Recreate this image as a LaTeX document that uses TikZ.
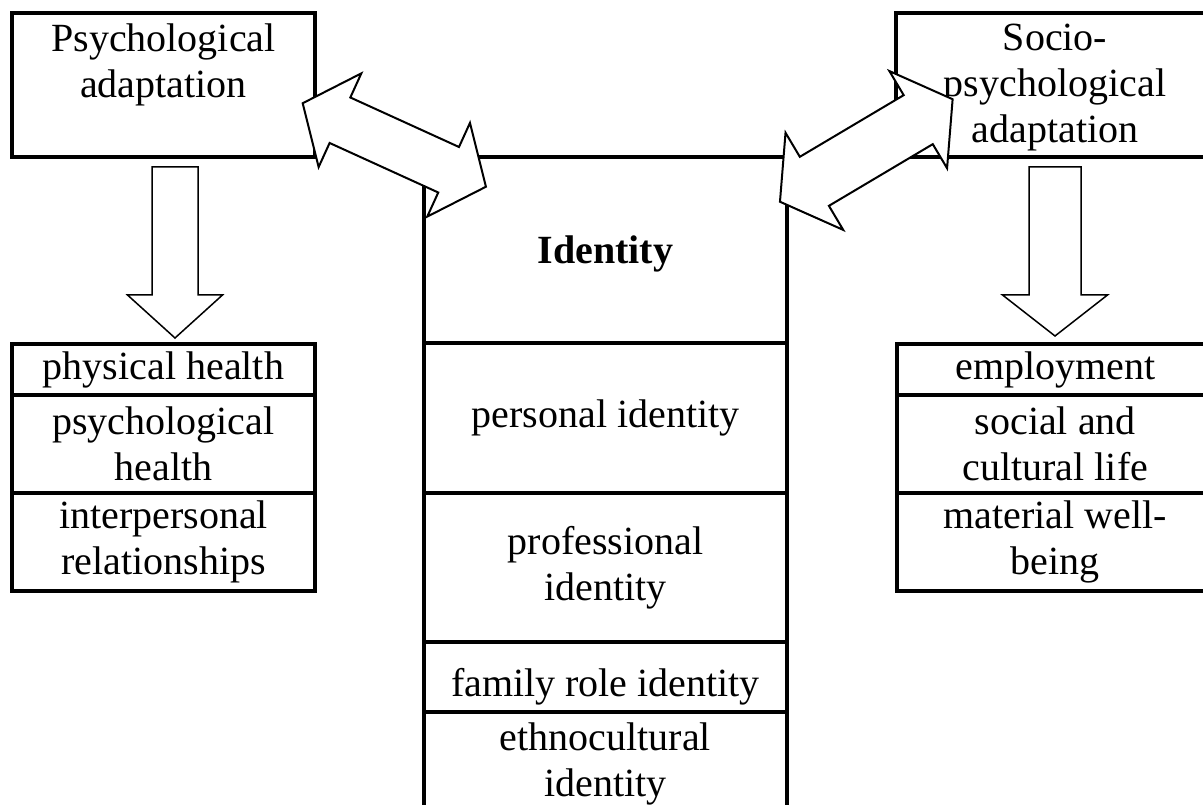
\documentclass[tikz,border=0pt]{standalone}
\usepackage{fontspec}
\setmainfont{Liberation Serif}
\usetikzlibrary{positioning}

\begin{document}
\begin{tikzpicture}[x=1pt,y=1pt,font=\fontsize{40}{46}\selectfont,
  box/.style={draw,line width=4pt,outer sep=0pt,inner sep=2pt,align=center},
  txt/.style={inner sep=0pt,align=center},
  blk/.style={draw,fill=white,line width=2pt,line join=miter}]
\useasboundingbox (0,0) rectangle (1203,805);
\node[box,minimum width=303,minimum height=144] (psy) at (163.5,720) {};
\node[txt,below=11pt of psy.north] (psyl) {Psychological\\adaptation};
\node[box,minimum width=318,minimum height=144] (soc) at (1055,720) {};
\node[txt,below=11pt of soc.north] (socl) {Socio-\\psychological\\adaptation};
\node[box,minimum width=363,minimum height=186,text depth=0pt] (idn) at (605.5,555) {\textbf{Identity}};
\node[box,minimum width=363,minimum height=150,below=0pt of idn] (per) {personal identity};
\node[box,minimum width=363,minimum height=149,below=0pt of per] (pro) {professional\\identity};
\node[box,minimum width=363,minimum height=70,text height=40pt,text depth=0pt,below=0pt of pro] (fam) {family role identity};
\node[box,minimum width=363,minimum height=103,below=0pt of fam] (eth) {ethnocultural\\identity};
\node[box,minimum width=303,minimum height=51] (phy) at (163.5,435.5) {physical health};
\node[box,minimum width=303,minimum height=98,below=0pt of phy] (mhl) {psychological\\health};
\node[box,minimum width=303,minimum height=98,below=0pt of mhl] (ipr) {interpersonal\\relationships};
\node[box,minimum width=317,minimum height=51] (emp) at (1055.3,435.5) {employment};
\node[box,minimum width=317,minimum height=98,below=0pt of emp] (scl) {social and\\cultural life};
\node[box,minimum width=317,minimum height=98,below=0pt of scl] (mat) {material well-\\being};
\coordinate (la) at (175,638);
\coordinate (ra) at (1055,638);
\coordinate (lx) at (394.3,660);
\coordinate (rx) at (866.3,654.5);
\draw[blk,line width=1.5pt,shift={(la)}] (-23,0) -- (-23,-128) -- (-47.5,-128) -- (0,-171) -- (47.5,-128) -- (23,-128) -- (23,0) -- cycle;
\draw[blk,line width=1.5pt,shift={(ra)}] (-26,0) -- (-26,-128) -- (-52.5,-128) -- (0,-169) -- (52.5,-128) -- (26,-128) -- (26,0) -- cycle;
\draw[blk,shift={(lx)},rotate=-24.5] (-100.7,0) -- (-59.7,51.5) -- (-59.7,25) -- (59.7,25) -- (59.7,51.5) -- (100.7,0) -- (59.7,-51.5) -- (59.7,-25) -- (-59.7,-25) -- (-59.7,-51.5) -- cycle;
\draw[blk,shift={(rx)},rotate=30.7] (-100.4,0) -- (-60.4,56.5) -- (-60.4,28.5) -- (60.4,28.5) -- (60.4,56.5) -- (100.4,0) -- (60.4,-56.5) -- (60.4,-28.5) -- (-60.4,-28.5) -- (-60.4,-56.5) -- cycle;
\end{tikzpicture}
\end{document}
